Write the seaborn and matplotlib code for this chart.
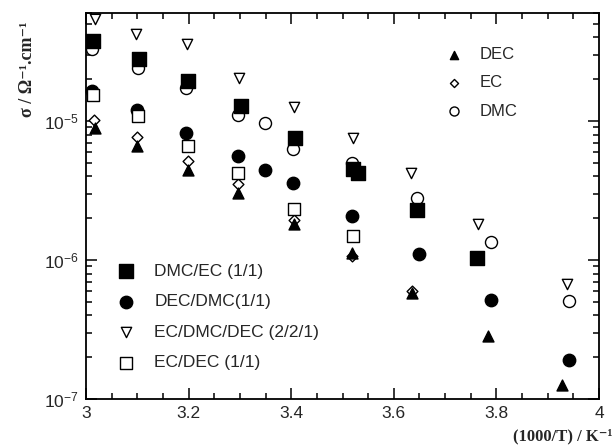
import numpy as np
import pandas as pd
import seaborn as sns
import matplotlib.pyplot as plt
from matplotlib.ticker import LogLocator, MultipleLocator

# values (x = 1000/T in K^-1, y = conductivity in S/cm)
dmc_ec_x = [3.014, 3.104, 3.199, 3.302, 3.407, 3.520, 3.530, 3.645, 3.762]
dmc_ec_y = [3.76e-5, 2.78e-5, 1.94e-5, 1.28e-5, 7.6e-6, 4.49e-6, 4.2e-6, 2.30e-6, 1.04e-6]

dec_dmc_x = [3.012, 3.100, 3.194, 3.297, 3.349, 3.404, 3.518, 3.649, 3.789, 3.942]
dec_dmc_y = [1.66e-5, 1.20e-5, 8.25e-6, 5.6e-6, 4.44e-6, 3.56e-6, 2.07e-6, 1.10e-6, 5.15e-7, 1.91e-7]

ec_dmc_dec_x = [3.018, 3.097, 3.197, 3.299, 3.406, 3.521, 3.634, 3.764, 3.937]
ec_dmc_dec_y = [5.39e-5, 4.25e-5, 3.56e-5, 2.05e-5, 1.27e-5, 7.6e-6, 4.25e-6, 1.81e-6, 6.69e-7]

ec_dec_x = [3.013, 3.102, 3.198, 3.297, 3.405, 3.520]
ec_dec_y = [1.53e-5, 1.08e-5, 6.61e-6, 4.25e-6, 2.32e-6, 1.49e-6]

dmc_x = [3.012, 3.102, 3.195, 3.297, 3.349, 3.404, 3.518, 3.646, 3.789, 3.942]
dmc_y = [3.28e-5, 2.42e-5, 1.74e-5, 1.10e-5, 9.74e-6, 6.26e-6, 5.02e-6, 2.78e-6, 1.35e-6, 5.07e-7]

ec_x = [3.016, 3.100, 3.198, 3.297, 3.405, 3.518, 3.635]
ec_y = [1.02e-5, 7.72e-6, 5.17e-6, 3.50e-6, 1.93e-6, 1.07e-6, 6.0e-7]

dec_x = [3.018, 3.100, 3.198, 3.297, 3.405, 3.518, 3.635, 3.784, 3.927]
dec_y = [8.97e-6, 6.61e-6, 4.46e-6, 3.05e-6, 1.82e-6, 1.12e-6, 5.76e-7, 2.84e-7, 1.26e-7]

sns.set_style("ticks")
plt.rcParams["font.family"] = ["Liberation Sans", "DejaVu Sans"]
plt.rcParams["mathtext.fontset"] = "custom"
plt.rcParams["mathtext.rm"] = "Liberation Sans"
plt.rcParams["mathtext.it"] = "Liberation Sans:italic"
plt.rcParams["mathtext.bf"] = "Liberation Sans:bold"

fig = plt.figure(figsize=(6.16, 4.48), dpi=100)
ax = fig.add_axes([86 / 616, 1 - 399 / 448, 513 / 616, 386 / 448])

# (label, x, y, marker, face, size) -- drawing order matters for overlaps
series = [
    ("DMC", dmc_x, dmc_y, "o", "white", 75),
    ("EC", ec_x, ec_y, "D", "white", 30),
    ("DEC", dec_x, dec_y, "^", "black", 62),
    ("DEC/DMC(1/1)", dec_dmc_x, dec_dmc_y, "o", "black", 80),
    ("EC/DEC (1/1)", ec_dec_x, ec_dec_y, "s", "white", 68),
    ("DMC/EC (1/1)", dmc_ec_x, dmc_ec_y, "s", "black", 92),
    ("EC/DMC/DEC (2/2/1)", ec_dmc_dec_x, ec_dmc_dec_y, "v", "white", 55),
]

for label, xs, ys, mk, face, size in series:
    df = pd.DataFrame({"x": xs, "y": ys})
    sns.scatterplot(data=df, x="x", y="y", marker=mk, s=size, color=face,
                    edgecolor="black", linewidth=1.0, label=label, ax=ax,
                    zorder=3, clip_on=False)

ax.set_yscale("log")
ax.set_xlim(3, 4)
ax.set_ylim(1e-7, 6e-5)
ax.xaxis.set_major_locator(MultipleLocator(0.2))
ax.xaxis.set_minor_locator(MultipleLocator(0.05))
ax.yaxis.set_major_locator(LogLocator(base=10))
ax.yaxis.set_minor_locator(LogLocator(base=10, subs=np.arange(2, 10)))
ax.set_xticks([3, 3.2, 3.4, 3.6, 3.8, 4])
ax.set_xticklabels(["3", "3.2", "3.4", "3.6", "3.8", "4"])
ax.tick_params(which="both", direction="in", top=True, right=True,
               labelsize=12.5, width=1.1, color="black", pad=5)
ax.tick_params(which="major", length=8)
ax.tick_params(which="minor", length=4.5)
for sp in ax.spines.values():
    sp.set_linewidth(1.3)
    sp.set_color("black")
ax.set_xlabel("")
ax.set_ylabel("")

handles, labels = ax.get_legend_handles_labels()
hmap = dict(zip(labels, handles))

leg1 = ax.legend([hmap[k] for k in ["DEC", "EC", "DMC"]], ["DEC", "EC", "DMC"],
                 loc="upper left", bbox_to_anchor=(0.702, 0.912), frameon=False,
                 fontsize=12, markerscale=0.75, handlelength=1.0,
                 handletextpad=1.0, labelspacing=0.8, borderpad=0, borderaxespad=0)
ax.add_artist(leg1)
names2 = ["DMC/EC (1/1)", "DEC/DMC(1/1)", "EC/DMC/DEC (2/2/1)", "EC/DEC (1/1)"]
ax.legend([hmap[k] for k in names2], names2, loc="upper left",
          bbox_to_anchor=(0.062, 0.350), frameon=False, fontsize=12.5,
          handlelength=1.0, handletextpad=1.1, labelspacing=0.875,
          borderpad=0, borderaxespad=0)

serif = ["Liberation Serif", "DejaVu Serif"]
fig.text(0.044, 0.845, "σ / Ω⁻¹.cm⁻¹", rotation=90, ha="center", va="center",
         fontsize=13, fontweight="bold", family=serif)
fig.text(0.995, 0.025, "(1000/T) / K⁻¹", ha="right", va="center",
         fontsize=12, fontweight="bold", family=serif)

fig.savefig("out.png", dpi=100)
